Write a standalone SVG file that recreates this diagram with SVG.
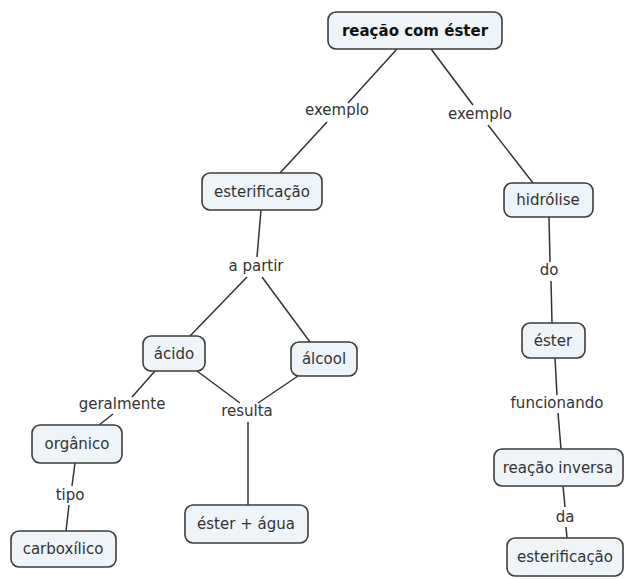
<svg xmlns="http://www.w3.org/2000/svg" width="625" height="579" viewBox="0 0 625 579">
<style>
.n rect{fill:#eef4f7;stroke:#3d3d3d;stroke-width:1.6}
text{font-family:"DejaVu Sans",Verdana,sans-serif;font-size:15px;fill:#333;text-anchor:middle}
.b{font-weight:bold;fill:#111}
#edges line{stroke:#333;stroke-width:1.5}
</style>
<rect width="625" height="579" fill="#fff"/>
<g id="edges">
<line x1="397" y1="49" x2="348" y2="103"/>
<line x1="327" y1="122" x2="280" y2="173"/>
<line x1="431" y1="49" x2="473" y2="105"/>
<line x1="488" y1="125" x2="533" y2="183"/>
<line x1="261" y1="210" x2="257" y2="257"/>
<line x1="247" y1="277" x2="190" y2="336"/>
<line x1="262" y1="277" x2="310" y2="342"/>
<line x1="155" y1="371" x2="132" y2="397"/>
<line x1="113" y1="414" x2="99" y2="425"/>
<line x1="197" y1="371" x2="240" y2="403"/>
<line x1="298" y1="376" x2="258" y2="403"/>
<line x1="248" y1="422" x2="248" y2="505"/>
<line x1="75" y1="463" x2="72" y2="486"/>
<line x1="69" y1="505" x2="66" y2="531"/>
<line x1="549" y1="217" x2="550" y2="262"/>
<line x1="551" y1="281" x2="552" y2="323"/>
<line x1="555" y1="358" x2="557" y2="395"/>
<line x1="558" y1="413" x2="561" y2="449"/>
<line x1="563" y1="486" x2="565" y2="507"/>
<line x1="566" y1="527" x2="567" y2="538"/>
</g>
<g id="labels">
<text x="337" y="115">exemplo</text>
<text x="480" y="119">exemplo</text>
<text x="256" y="271">a partir</text>
<text x="122" y="409">geralmente</text>
<text x="247" y="416">resulta</text>
<text x="70" y="500">tipo</text>
<text x="549" y="275">do</text>
<text x="557" y="408">funcionando</text>
<text x="565" y="522">da</text>
</g>
<g id="n0" class="n"><rect x="328" y="12" width="174" height="37" rx="8"/><text class="b" x="415" y="36">reação com éster</text></g>
<g id="n1" class="n"><rect x="202" y="173" width="120" height="37" rx="8"/><text x="262" y="197">esterificação</text></g>
<g id="n2" class="n"><rect x="504" y="183" width="89" height="34" rx="8"/><text x="548" y="205">hidrólise</text></g>
<g id="n3" class="n"><rect x="143" y="336" width="62" height="35" rx="8"/><text x="174" y="359">ácido</text></g>
<g id="n4" class="n"><rect x="291" y="342" width="66" height="34" rx="8"/><text x="324" y="364">álcool</text></g>
<g id="n5" class="n"><rect x="32" y="425" width="90" height="38" rx="8"/><text x="77" y="449">orgânico</text></g>
<g id="n6" class="n"><rect x="11" y="531" width="105" height="36" rx="8"/><text x="63" y="554">carboxílico</text></g>
<g id="n7" class="n"><rect x="185" y="505" width="123" height="38" rx="8"/><text x="246" y="529">éster + água</text></g>
<g id="n8" class="n"><rect x="522" y="323" width="63" height="35" rx="8"/><text x="553" y="346">éster</text></g>
<g id="n9" class="n"><rect x="494" y="449" width="129" height="37" rx="8"/><text x="558" y="473">reação inversa</text></g>
<g id="n10" class="n"><rect x="507" y="538" width="116" height="38" rx="8"/><text x="565" y="562">esterificação</text></g>
</svg>
